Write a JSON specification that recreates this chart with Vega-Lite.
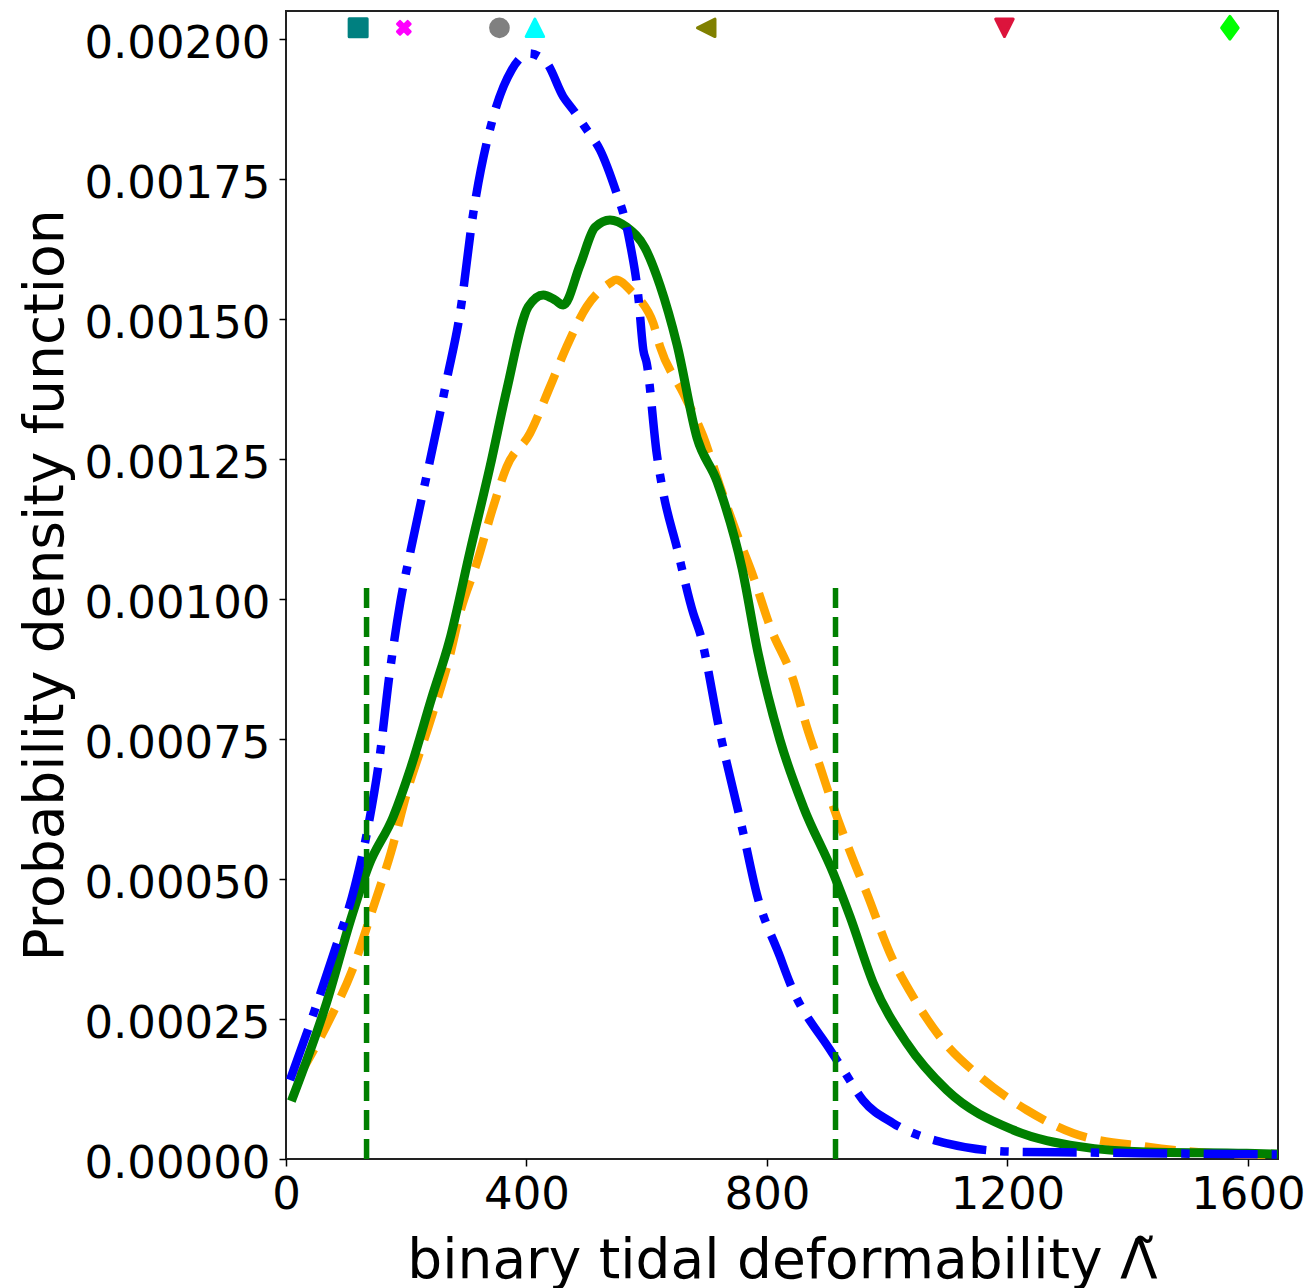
{
  "$schema": "https://vega.github.io/schema/vega-lite/v6.json",
  "width": 992,
  "height": 1148,
  "autosize": {"type": "none"},
  "padding": {"left": 286, "top": 11, "right": 32, "bottom": 129},
  "background": "white",
  "config": {
    "view": {"stroke": "#222222", "strokeWidth": 2},
    "font": "DejaVu Sans",
    "axis": {
      "labelFont": "DejaVu Sans",
      "titleFont": "DejaVu Sans",
      "labelColor": "black",
      "titleColor": "black",
      "tickColor": "black",
      "tickWidth": 1.5,
      "tickSize": 7,
      "domain": false,
      "grid": false,
      "titleFontWeight": "normal",
      "labelFontSize": 45,
      "titleFontSize": 55,
      "labelLimit": 500,
      "titleLimit": 1200,
      "labelOverlap": false
    }
  },
  "datasets": {
    "orange": [
      {"lambda": 21.6, "pdf": 0.000148},
      {"lambda": 74.9, "pdf": 0.000254},
      {"lambda": 109.8, "pdf": 0.000336},
      {"lambda": 144.7, "pdf": 0.000448},
      {"lambda": 174.7, "pdf": 0.000548},
      {"lambda": 202.9, "pdf": 0.000661},
      {"lambda": 237.9, "pdf": 0.000775},
      {"lambda": 272.8, "pdf": 0.0009},
      {"lambda": 289.4, "pdf": 0.000975},
      {"lambda": 317.2, "pdf": 0.001064},
      {"lambda": 344.8, "pdf": 0.001165},
      {"lambda": 367.1, "pdf": 0.001236},
      {"lambda": 405.9, "pdf": 0.001296},
      {"lambda": 439.1, "pdf": 0.001379},
      {"lambda": 466.9, "pdf": 0.001451},
      {"lambda": 500.2, "pdf": 0.001522},
      {"lambda": 538.9, "pdf": 0.001564},
      {"lambda": 548.9, "pdf": 0.00157},
      {"lambda": 577.7, "pdf": 0.001546},
      {"lambda": 588.8, "pdf": 0.001534},
      {"lambda": 611, "pdf": 0.001492},
      {"lambda": 622.1, "pdf": 0.001451},
      {"lambda": 660.9, "pdf": 0.001367},
      {"lambda": 694.1, "pdf": 0.00129},
      {"lambda": 721.9, "pdf": 0.001201},
      {"lambda": 749.7, "pdf": 0.001117},
      {"lambda": 777.3, "pdf": 0.00104},
      {"lambda": 805.1, "pdf": 0.000951},
      {"lambda": 843.8, "pdf": 0.000855},
      {"lambda": 866.1, "pdf": 0.000772},
      {"lambda": 888.2, "pdf": 0.000701},
      {"lambda": 910.4, "pdf": 0.000629},
      {"lambda": 943.6, "pdf": 0.000534},
      {"lambda": 965.9, "pdf": 0.000475},
      {"lambda": 1004.7, "pdf": 0.000367},
      {"lambda": 1043.4, "pdf": 0.000289},
      {"lambda": 1087.8, "pdf": 0.000218},
      {"lambda": 1154.4, "pdf": 0.000147},
      {"lambda": 1232, "pdf": 0.0000875},
      {"lambda": 1309.6, "pdf": 0.0000459},
      {"lambda": 1431.6, "pdf": 0.000022},
      {"lambda": 1542.4, "pdf": 0.0000102},
      {"lambda": 1648, "pdf": 0.0000071}
    ],
    "green": [
      {"lambda": 11.6, "pdf": 0.000111},
      {"lambda": 67.5, "pdf": 0.000279},
      {"lambda": 108.4, "pdf": 0.00043},
      {"lambda": 137.6, "pdf": 0.000524},
      {"lambda": 178.3, "pdf": 0.000611},
      {"lambda": 207.6, "pdf": 0.000699},
      {"lambda": 242.5, "pdf": 0.000824},
      {"lambda": 271.8, "pdf": 0.000925},
      {"lambda": 306.7, "pdf": 0.001088},
      {"lambda": 339.3, "pdf": 0.001236},
      {"lambda": 367.1, "pdf": 0.001373},
      {"lambda": 403, "pdf": 0.001522},
      {"lambda": 428, "pdf": 0.001543},
      {"lambda": 447.4, "pdf": 0.001534},
      {"lambda": 461.2, "pdf": 0.001525},
      {"lambda": 489, "pdf": 0.001596},
      {"lambda": 514, "pdf": 0.001664},
      {"lambda": 538.9, "pdf": 0.001677},
      {"lambda": 566.7, "pdf": 0.001664},
      {"lambda": 597.1, "pdf": 0.001627},
      {"lambda": 622.1, "pdf": 0.00156},
      {"lambda": 650.4, "pdf": 0.001454},
      {"lambda": 683.6, "pdf": 0.001288},
      {"lambda": 716.9, "pdf": 0.00121},
      {"lambda": 727.4, "pdf": 0.001177},
      {"lambda": 758.5, "pdf": 0.001055},
      {"lambda": 785.1, "pdf": 0.000904},
      {"lambda": 821.7, "pdf": 0.000748},
      {"lambda": 860.5, "pdf": 0.000629},
      {"lambda": 910.4, "pdf": 0.00051},
      {"lambda": 938.1, "pdf": 0.000433},
      {"lambda": 976.9, "pdf": 0.000314},
      {"lambda": 1032.4, "pdf": 0.000207},
      {"lambda": 1099, "pdf": 0.000123},
      {"lambda": 1209.8, "pdf": 0.0000518},
      {"lambda": 1320.7, "pdf": 0.000022},
      {"lambda": 1431.6, "pdf": 0.0000125},
      {"lambda": 1598, "pdf": 0.0000102},
      {"lambda": 1648, "pdf": 0.0000089}
    ],
    "blue": [
      {"lambda": 6.7, "pdf": 0.000141},
      {"lambda": 50.1, "pdf": 0.000273},
      {"lambda": 79.2, "pdf": 0.000367},
      {"lambda": 114.3, "pdf": 0.000486},
      {"lambda": 137.6, "pdf": 0.000599},
      {"lambda": 155, "pdf": 0.000712},
      {"lambda": 172.5, "pdf": 0.000868},
      {"lambda": 190.1, "pdf": 0.000994},
      {"lambda": 207.6, "pdf": 0.001088},
      {"lambda": 256.2, "pdf": 0.001332},
      {"lambda": 267.3, "pdf": 0.001391},
      {"lambda": 289.4, "pdf": 0.00151},
      {"lambda": 311.5, "pdf": 0.001689},
      {"lambda": 344.8, "pdf": 0.001861},
      {"lambda": 375.4, "pdf": 0.001945},
      {"lambda": 404.7, "pdf": 0.001974},
      {"lambda": 433.6, "pdf": 0.001957},
      {"lambda": 461.2, "pdf": 0.001897},
      {"lambda": 477.9, "pdf": 0.001873},
      {"lambda": 500.2, "pdf": 0.001838},
      {"lambda": 522.3, "pdf": 0.001802},
      {"lambda": 550.1, "pdf": 0.001724},
      {"lambda": 563.9, "pdf": 0.001677},
      {"lambda": 572.2, "pdf": 0.001635},
      {"lambda": 586, "pdf": 0.00154},
      {"lambda": 594.3, "pdf": 0.001445},
      {"lambda": 600, "pdf": 0.001421},
      {"lambda": 616.6, "pdf": 0.00126},
      {"lambda": 627.6, "pdf": 0.001189},
      {"lambda": 649.9, "pdf": 0.001093},
      {"lambda": 677.5, "pdf": 0.000974},
      {"lambda": 688.6, "pdf": 0.000939},
      {"lambda": 721.9, "pdf": 0.000761},
      {"lambda": 760.6, "pdf": 0.000582},
      {"lambda": 782.9, "pdf": 0.000474},
      {"lambda": 821.7, "pdf": 0.000361},
      {"lambda": 838.3, "pdf": 0.000314},
      {"lambda": 904.9, "pdf": 0.000195},
      {"lambda": 927, "pdf": 0.000159},
      {"lambda": 959.7, "pdf": 0.000105},
      {"lambda": 1010.1, "pdf": 0.0000638},
      {"lambda": 1099, "pdf": 0.000028},
      {"lambda": 1209.8, "pdf": 0.000013},
      {"lambda": 1320.7, "pdf": 0.0000116},
      {"lambda": 1648, "pdf": 0.000008}
    ],
    "limits": [
      {"lambda": 134},
      {"lambda": 914}
    ],
    "markers": [
      {"lambda": 120, "model": "m1"},
      {"lambda": 196, "model": "m2"},
      {"lambda": 355, "model": "m3"},
      {"lambda": 414, "model": "m4"},
      {"lambda": 699, "model": "m5"},
      {"lambda": 1195, "model": "m6"},
      {"lambda": 1570, "model": "m7"}
    ]
  },
  "layer": [
    {
      "data": {"name": "orange"},
      "mark": {"type": "line", "color": "#ffa500", "strokeWidth": 8.5, "strokeDash": [31, 14], "strokeCap": "butt", "interpolate": "monotone", "clip": true},
      "encoding": {
        "x": {
          "field": "lambda",
          "type": "quantitative",
          "scale": {"domain": [0, 1650], "nice": false, "zero": false},
          "axis": {
            "values": [0, 400, 800, 1200, 1600],
            "format": "d",
            "labelPadding": 6,
            "labelFlush": false,
            "title": "binary tidal deformability \u039b\u0303",
            "titleBaseline": "alphabetic",
            "titleY": 118
          }
        },
        "y": {
          "field": "pdf",
          "type": "quantitative",
          "scale": {"domain": [0, 0.00205], "nice": false, "zero": false},
          "axis": {
            "values": [0, 0.00025, 0.0005, 0.00075, 0.001, 0.00125, 0.0015, 0.00175, 0.002],
            "format": ".5f",
            "labelPadding": 9,
            "labelOffset": 4.5,
            "labelFlush": false,
            "title": "Probability density function",
            "titleAngle": 270,
            "titleBaseline": "alphabetic",
            "titleX": -224
          }
        }
      }
    },
    {
      "data": {"name": "green"},
      "mark": {"type": "line", "color": "#008000", "strokeWidth": 9, "strokeJoin": "round", "strokeCap": "square", "interpolate": "monotone", "clip": true},
      "encoding": {
        "x": {"field": "lambda", "type": "quantitative"},
        "y": {"field": "pdf", "type": "quantitative"}
      }
    },
    {
      "data": {"name": "blue"},
      "mark": {"type": "line", "color": "#0000ff", "strokeWidth": 8.5, "strokeDash": [54, 14, 8.5, 14], "strokeCap": "butt", "interpolate": "monotone", "clip": true},
      "encoding": {
        "x": {"field": "lambda", "type": "quantitative"},
        "y": {"field": "pdf", "type": "quantitative"}
      }
    },
    {
      "data": {"name": "limits"},
      "mark": {"type": "rule", "color": "#008000", "strokeWidth": 5.5, "strokeDash": [20, 9]},
      "encoding": {
        "x": {"field": "lambda", "type": "quantitative"},
        "y": {"datum": 0, "type": "quantitative"},
        "y2": {"datum": 0.00102}
      }
    },
    {
      "data": {"name": "markers"},
      "mark": {"type": "point", "filled": true, "opacity": 1, "strokeWidth": 3, "strokeJoin": "round"},
      "encoding": {
        "x": {"field": "lambda", "type": "quantitative"},
        "y": {"datum": 0.00202, "type": "quantitative"},
        "shape": {
          "field": "model",
          "type": "nominal",
          "scale": {
            "type": "ordinal",
            "domain": ["m1", "m2", "m3", "m4", "m5", "m6", "m7"],
            "range": [
              "square",
              "M-1,-0.6L-0.6,-1L0,-0.4L0.6,-1L1,-0.6L0.4,0L1,0.6L0.6,1L0,0.4L-0.6,1L-1,0.6L-0.4,0Z",
              "circle",
              "M0,-1L1,1L-1,1Z",
              "M-1,0L1,-1L1,1Z",
              "M-1,-1L1,-1L0,1Z",
              "M0,-1L0.73,0L0,1L-0.73,0Z"
            ]
          },
          "legend": null
        },
        "fill": {
          "field": "model",
          "type": "nominal",
          "scale": {
            "type": "ordinal",
            "domain": ["m1", "m2", "m3", "m4", "m5", "m6", "m7"],
            "range": ["#008080", "#ff00ff", "#808080", "#00ffff", "#808000", "#dc143c", "#00ff00"]
          },
          "legend": null
        },
        "stroke": {
          "field": "model",
          "type": "nominal",
          "scale": {
            "type": "ordinal",
            "domain": ["m1", "m2", "m3", "m4", "m5", "m6", "m7"],
            "range": ["#008080", "#ff00ff", "#808080", "#00ffff", "#808000", "#dc143c", "#00ff00"]
          },
          "legend": null
        },
        "size": {
          "field": "model",
          "type": "nominal",
          "scale": {
            "type": "ordinal",
            "domain": ["m1", "m2", "m3", "m4", "m5", "m6", "m7"],
            "range": [324, 161, 313, 306, 306, 306, 515]
          },
          "legend": null
        }
      }
    }
  ]
}
